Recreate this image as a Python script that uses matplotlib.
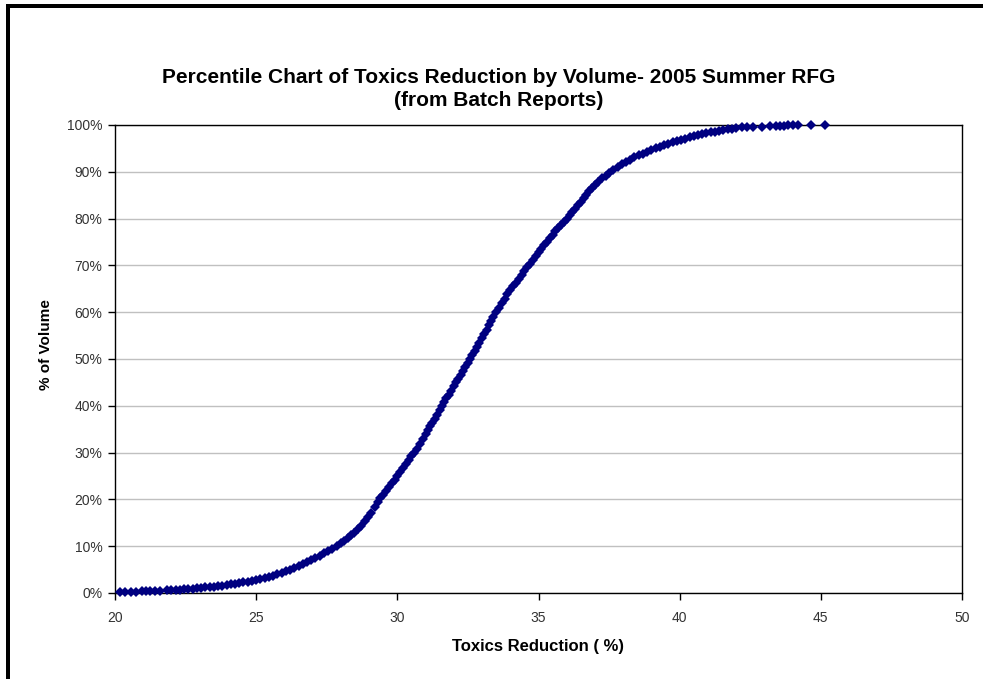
import matplotlib
matplotlib.use("Agg")
import matplotlib.pyplot as plt
from matplotlib.patches import Rectangle
from matplotlib.ticker import FuncFormatter

plt.rcParams['font.family'] = ['Liberation Sans', 'DejaVu Sans']

title_text = "Percentile Chart of Toxics Reduction by Volume- 2005 Summer RFG\n(from Batch Reports)"
x_label = "Toxics Reduction ( %)"
y_label = "% of Volume"

toxics_reduction = [
    20.18, 20.35, 20.55, 20.75, 20.95, 21.1, 21.25, 21.4, 21.6, 21.85, 22.0, 22.15, 22.3, 22.45,
    22.6, 22.75, 22.9, 23.05, 23.2, 23.35, 23.5, 23.65, 23.8, 23.95, 24.1, 24.25, 24.4, 24.55,
    24.7, 24.85, 25.0, 25.15, 25.3, 25.45, 25.6, 25.75, 25.9, 26.05, 26.2, 26.35, 26.5, 26.65,
    26.8, 26.95, 27.1, 27.25, 27.4, 27.55, 27.7, 27.85, 28.0, 28.12, 28.24, 28.36, 28.48, 28.6,
    28.72, 28.84, 28.96, 29.08, 29.2, 29.3, 29.4, 29.5, 29.6, 29.7, 29.8, 29.9, 30.0, 30.1,
    30.2, 30.3, 30.4, 30.5, 30.6, 30.7, 30.8, 30.9, 31.0, 31.08, 31.16, 31.24, 31.32, 31.4,
    31.5, 31.58, 31.66, 31.74, 31.82, 31.9, 32.0, 32.08, 32.16, 32.24, 32.32, 32.4, 32.5, 32.58,
    32.66, 32.74, 32.82, 32.9, 33.0, 33.08, 33.16, 33.24, 33.32, 33.4, 33.5, 33.6, 33.7, 33.8,
    33.9, 34.0, 34.1, 34.2, 34.3, 34.4, 34.5, 34.6, 34.7, 34.8, 34.9, 35.0, 35.1, 35.2, 35.3,
    35.4, 35.5, 35.6, 35.7, 35.8, 35.9, 36.0, 36.1, 36.2, 36.3, 36.4, 36.5, 36.6, 36.7, 36.8,
    36.9, 37.0, 37.12, 37.25, 37.38, 37.5, 37.65, 37.8, 37.95, 38.1, 38.25, 38.4, 38.55, 38.7,
    38.85, 39.0, 39.15, 39.3, 39.45, 39.6, 39.75, 39.9, 40.05, 40.2, 40.35, 40.5, 40.65, 40.8,
    40.95, 41.1, 41.25, 41.4, 41.55, 41.7, 41.85, 42.0, 42.2, 42.4, 42.6, 42.9, 43.2, 43.4,
    43.55, 43.7, 43.85, 44.0, 44.2, 44.65, 45.14,
]

pct_volume = [
    0.2, 0.25, 0.3, 0.3, 0.35, 0.4, 0.4, 0.45, 0.5, 0.55, 0.6, 0.65, 0.7, 0.8,
    0.85, 0.9, 1.0, 1.1, 1.2, 1.25, 1.35, 1.45, 1.55, 1.7, 1.85, 2.0, 2.15, 2.3,
    2.45, 2.6, 2.8, 3.0, 3.2, 3.4, 3.7, 4.0, 4.3, 4.7, 5.0, 5.4, 5.8, 6.2,
    6.6, 7.0, 7.5, 8.0, 8.5, 9.0, 9.5, 10.0, 10.6, 11.2, 11.8, 12.4, 12.9, 13.6,
    14.4, 15.3, 16.2, 17.1, 18.4, 19.4, 20.2, 21.0, 21.8, 22.6, 23.4, 24.2, 25.1, 25.9,
    26.7, 27.5, 28.4, 29.2, 30.0, 30.8, 31.8, 32.8, 33.9, 34.8, 35.6, 36.4, 37.2, 38.1,
    39.1, 40.0, 40.8, 41.6, 42.4, 43.2, 44.2, 45.0, 45.8, 46.6, 47.4, 48.2, 49.2, 50.0,
    50.9, 51.7, 52.6, 53.4, 54.5, 55.4, 56.3, 57.2, 58.1, 59.0, 60.0, 61.0, 62.0, 62.9,
    63.8, 64.7, 65.5, 66.3, 67.1, 68.0, 68.8, 69.6, 70.4, 71.2, 72.1, 72.9, 73.6, 74.4, 75.1,
    75.9, 76.6, 77.3, 78.0, 78.6, 79.3, 80.0, 80.7, 81.4, 82.1, 82.9, 83.6, 84.3, 85.0, 85.8,
    86.5, 87.2, 87.9, 88.6, 89.2, 89.8, 90.4, 91.0, 91.6, 92.1, 92.6, 93.1, 93.5, 93.9,
    94.3, 94.7, 95.0, 95.4, 95.7, 96.0, 96.3, 96.6, 96.9, 97.1, 97.4, 97.6, 97.8, 98.0,
    98.2, 98.4, 98.6, 98.8, 98.95, 99.1, 99.25, 99.4, 99.5, 99.55, 99.6, 99.65, 99.7, 99.75,
    99.8, 99.85, 99.9, 99.92, 99.95, 100.0, 100.0,
]

x_ticks = [20, 25, 30, 35, 40, 45, 50]
y_ticks = [0, 10, 20, 30, 40, 50, 60, 70, 80, 90, 100]

W, H = 983, 679
fig = plt.figure(figsize=(W / 100, H / 100), dpi=100)
fig.patch.set_facecolor('white')

# black frame (left and top edges visible)
fig.add_artist(Rectangle((6 / W, 0), 4 / W, 1 - 4 / H, transform=fig.transFigure,
                         facecolor='black', edgecolor='none'))
fig.add_artist(Rectangle((6 / W, 1 - 8 / H), 1 - 6 / W, 4 / H, transform=fig.transFigure,
                         facecolor='black', edgecolor='none'))

left, right, top, bottom = 115, 962, 125, 593
ax = fig.add_axes([left / W, 1 - bottom / H, (right - left) / W, (bottom - top) / H])
ax.set_facecolor('white')

ax.plot(toxics_reduction, [p / 100 for p in pct_volume], linestyle='none',
        marker='D', markersize=5.2, color='#000080', markeredgewidth=0, zorder=3, clip_on=False)

ax.set_xlim(20, 50)
ax.set_ylim(0, 1)
ax.set_xticks(x_ticks)
ax.set_yticks([t / 100 for t in y_ticks])
ax.yaxis.set_major_formatter(FuncFormatter(lambda v, p: f"{int(round(v * 100))}%"))
ax.grid(axis='y', color='#c0c0c0', linewidth=1.0)
ax.set_axisbelow(True)
for s in ax.spines.values():
    s.set_color('black')
    s.set_linewidth(1.0)
ax.tick_params(axis='both', direction='out', length=5, width=1.0, color='black',
               labelsize=10, labelcolor='#333333')
ax.tick_params(axis='y', pad=4)
ax.tick_params(axis='x', pad=8)

ax.set_xlabel(x_label, fontsize=12, fontweight='bold')
ax.xaxis.set_label_coords(0.5, (593 - 646) / 468, transform=ax.transAxes)
ax.xaxis.label.set_va('center')
ax.set_ylabel(y_label, fontsize=11, fontweight='bold')
ax.yaxis.set_label_coords((46 - 115) / 847, (593 - 345) / 468, transform=ax.transAxes)
ax.yaxis.label.set_va('center')

fig.text(499 / W, 1 - 89 / H, title_text, ha='center', va='center', fontsize=15,
         fontweight='bold', linespacing=1.22)

fig.savefig('out.png', dpi=100, facecolor='white')
